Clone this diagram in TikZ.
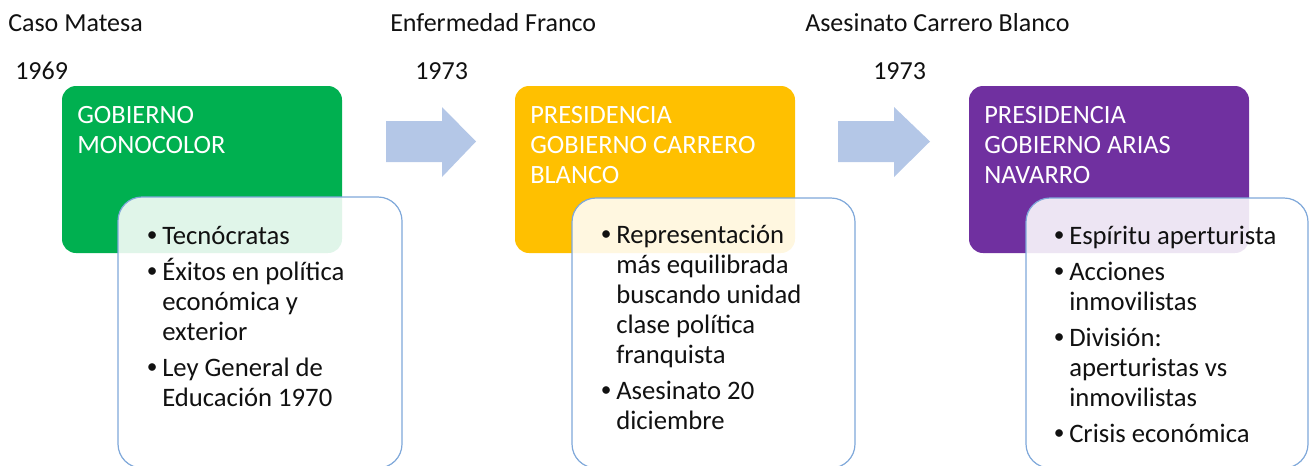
\documentclass[tikz,border=0pt]{standalone}
\usepackage{fontspec}
\setmainfont{Carlito}
\definecolor{cgreen}{HTML}{00B050}
\definecolor{corange}{HTML}{FFC000}
\definecolor{cpurple}{HTML}{7030A0}
\definecolor{carrow}{HTML}{B4C7E7}
\definecolor{cborder}{HTML}{7FA8DA}
\definecolor{ctext}{HTML}{111111}
\newcommand\smallbullet{\raisebox{2.2pt}{\fontsize{16pt}{16pt}\selectfont\textbullet}}
\newcommand\bitem[1]{\par\hangindent=10.5pt\hangafter=1\noindent\makebox[10.5pt][l]{\hspace{-1pt}\smallbullet}#1}
\tikzset{
  headbox/.style={rounded corners=10.5pt, draw=none},
  listbox/.style={rounded corners=18pt, draw=cborder, line width=0.9pt, fill=white, fill opacity=0.88},
  label/.style={anchor=base west, inner sep=0pt, text=ctext, font=\fontsize{19.5pt}{22.5pt}\selectfont},
  headtext/.style={anchor=base west, inner sep=0pt, text=white, font=\fontsize{19.8pt}{22.5pt}\selectfont},
  listtext/.style={anchor=base west, inner sep=0pt, text=ctext, font=\fontsize{20pt}{22.5pt}\selectfont},
  bigarrow/.style={fill=carrow, draw=none}
}
\newcommand\blist[1]{\parbox[t]{180pt}{\rightskip=0pt plus 1fil\parskip=4.5pt\baselineskip=22.5pt #1}}
\begin{document}
\begin{tikzpicture}[x=0.75pt,y=-0.75pt]
\useasboundingbox (0,0) rectangle (1312,465);
% top labels
\node[label] (t1) at (8,31) {Caso Matesa};
\node[label] (y1) at (15,79) {1969};
\node[label] (t2) at (390,31) {Enfermedad Franco};
\node[label] (y2) at (415,79) {1973};
\node[label] (t3) at (805,31) {Asesinato Carrero Blanco};
\node[label] (y3) at (873,79) {1973};
% arrows
\fill[bigarrow] (386,121) -- (442,121) -- (442,107) -- (476,141.5) -- (442,177) -- (442,162) -- (386,162) -- cycle;
\fill[bigarrow] (838,121) -- (894,121) -- (894,107) -- (930,141.5) -- (894,177) -- (894,162) -- (838,162) -- cycle;
% colored boxes
\fill[headbox, cgreen] (62,86) rectangle (342,253);
\fill[headbox, corange] (515,86) rectangle (795,253);
\fill[headbox, cpurple] (969,86) rectangle (1249,253);
\node[headtext] (h1) at (77,123) {\parbox[t]{200pt}{\baselineskip=22.5pt GOBIERNO\\MONOCOLOR}};
\node[headtext] (h2) at (530,123) {\parbox[t]{200pt}{\baselineskip=22.5pt PRESIDENCIA\\GOBIERNO CARRERO\\BLANCO}};
\node[headtext] (h3) at (984,123) {\parbox[t]{200pt}{\baselineskip=22.5pt PRESIDENCIA\\GOBIERNO ARIAS\\NAVARRO}};
% list boxes
\path[listbox] (118,197) rectangle (402,468);
\path[listbox] (572,198) rectangle (855,468);
\path[listbox] (1026,198) rectangle (1308,468);
\node[listtext] (l1) at (148,244) {\blist{%
\bitem{Tecnócratas}
\bitem{Éxitos en política\\económica y\\exterior}
\bitem{Ley General de\\Educación 1970}}};
\node[listtext] (l2) at (602,243) {\blist{%
\bitem{Representación\\más equilibrada\\buscando unidad\\clase política\\franquista}
\bitem{Asesinato 20\\diciembre}}};
\node[listtext] (l3) at (1055,244) {\blist{%
\bitem{Espíritu aperturista}
\bitem{Acciones\\inmovilistas}
\bitem{División:\\aperturistas vs\\inmovilistas}
\bitem{Crisis económica}}};
\end{tikzpicture}
\end{document}
